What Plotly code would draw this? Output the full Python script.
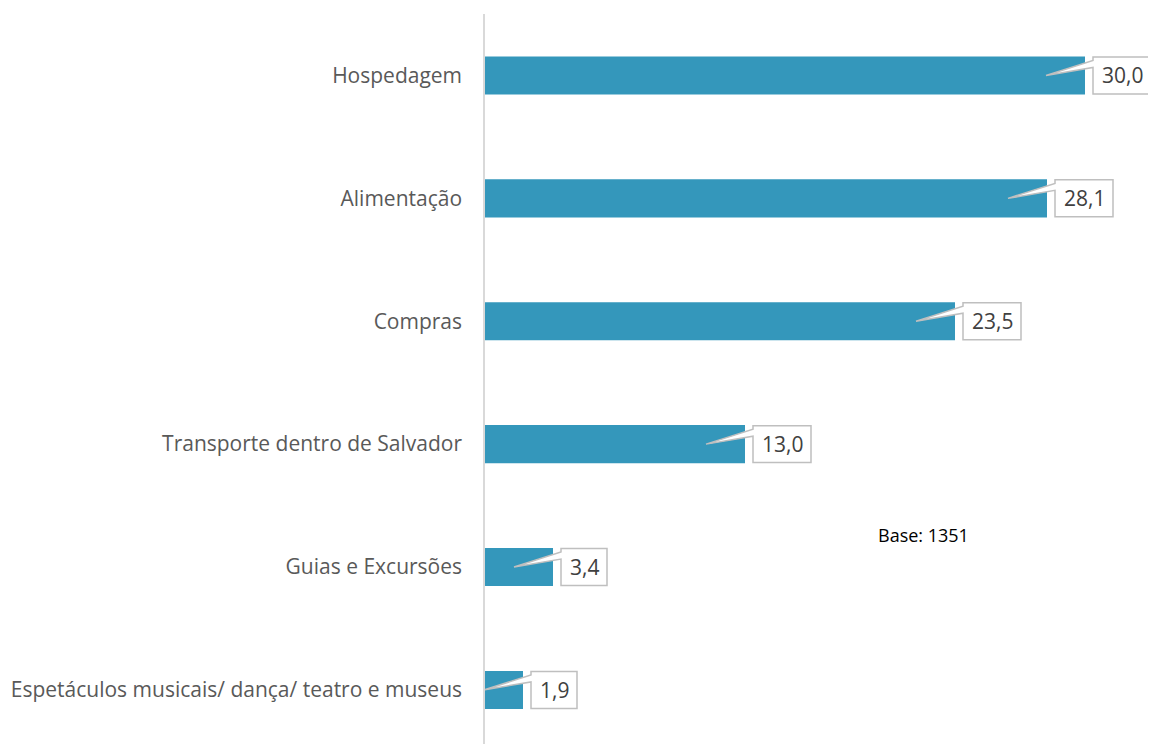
import plotly.graph_objects as go

categories = ["Espetáculos musicais/ dança/ teatro e museus", "Guias e Excursões",
              "Transporte dentro de Salvador", "Compras", "Alimentação", "Hospedagem"]
values = [1.9, 3.4, 13.0, 23.5, 28.1, 30.0]
labels = ["1,9", "3,4", "13,0", "23,5", "28,1", "30,0"]
base_note = "Base: 1351"

BAR = "#3497bb"
PX = 20.0  # px per x-unit
PY = 123.0  # px per category

fig = go.Figure(go.Bar(
    x=values, y=categories, orientation="h",
    marker=dict(color=BAR, line=dict(width=0)), width=0.31,
    hoverinfo="skip",
))

shapes = []
annotations = []
for i, (v, lab) in enumerate(zip(values, labels)):
    left = v + 8 / PX
    w = (12 * len(lab) + 10) / PX
    right = left + w
    top = i + 18.5 / PY
    bot = i - 18.5 / PY
    w1 = i + 15 / PY
    w2 = i + 8 / PY
    tip = v - 39 / PX
    path = (f"M {left},{top} L {right},{top} L {right},{bot} L {left},{bot} "
            f"L {left},{w2} L {tip},{i} L {left},{w1} Z")
    shapes.append(dict(type="path", path=path, xref="x", yref="y",
                       line=dict(color="#bfbfbf", width=1.5), fillcolor="white",
                       layer="above"))
    annotations.append(dict(x=(left + right) / 2, y=i, xref="x", yref="y",
                            text=lab, showarrow=False,
                            font=dict(family="Open Sans", size=21, color="#404040")))

annotations.append(dict(x=21.9, y=1.26, xref="x", yref="y", text=base_note,
                        showarrow=False,
                        font=dict(family="Open Sans", size=18, color="#000000")))

fig.update_layout(
    width=1148, height=736,
    margin=dict(l=477, r=0, t=6, b=0),
    paper_bgcolor="white", plot_bgcolor="white",
    showlegend=False,
    shapes=shapes, annotations=annotations,
    xaxis=dict(range=[0, 671 / PX], visible=False, fixedrange=True),
    yaxis=dict(type="category", categoryorder="array", categoryarray=categories,
               range=[-0.44, 5.5], showline=True, linecolor="#d9d9d9", linewidth=1.5,
               showgrid=False, zeroline=False, ticks="", ticklabelstandoff=17,
               tickfont=dict(family="Open Sans", size=21, color="#595959"),
               fixedrange=True),
)

fig.write_html("out.html")
